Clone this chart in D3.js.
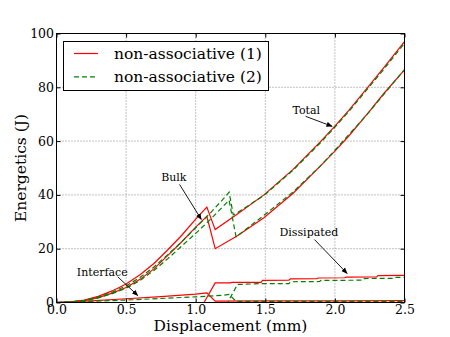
<!DOCTYPE html>
<html>
<head>
<meta charset="utf-8">
<script src="https://cdn.jsdelivr.net/npm/d3@7"></script>
<style>
    body { margin: 0; background: #fff; }
    svg text { font-family: "DejaVu Serif", serif; }
</style>
</head>
<body>
<div id="graph-container"></div>
<script>
// series names for the legend
var seriesNames = ["non-associative (1)", "non-associative (2)"];

// non-associative (1): [displacement mm, energy J]
var totalRed = [[0,0],[0.1,0.2],[0.2,0.9],[0.3,2.3],[0.4,4.3],[0.5,6.9],[0.6,10.3],[0.7,14.5],[0.8,19.6],[0.9,25.0],[1.0,31.0],[1.08,35.5],[1.14,27.1],[1.3,32.9],[1.49,40.0],[1.7,49.5],[1.9,60.0],[2.0,65.6],[2.1,71.4],[2.236,80.0],[2.35,87.2],[2.5,97.0]];
var bulkRed = [[0,0],[0.1,0.15],[0.2,0.7],[0.3,1.8],[0.4,3.5],[0.5,5.6],[0.6,8.6],[0.7,12.5],[0.8,17.5],[0.9,22.6],[1.0,28.0],[1.08,32.0],[1.14,20.0],[1.3,24.8],[1.49,31.5],[1.7,40.6],[1.9,51.0],[2.0,56.3],[2.1,61.9],[2.236,70.3],[2.35,77.6],[2.5,86.5]];
var interfaceRed = [[0,0],[0.25,0.6],[0.5,1.4],[0.75,2.2],[1.0,3.1],[1.08,3.6],[1.14,0.5],[1.5,0.6],[2.0,0.6],[2.5,0.7]];
var dissipatedRed = [[0,0],[1.06,0],[1.14,7.3],[1.25,7.3],[1.26,7.5],[1.47,7.5],[1.48,8.2],[1.67,8.3],[1.68,8.8],[1.87,8.9],[1.88,9.1],[2.07,9.2],[2.08,9.4],[2.30,9.5],[2.31,10.0],[2.5,10.1]];

// non-associative (2)
var totalGreen = [[0,0],[0.1,0.2],[0.2,0.8],[0.3,2.0],[0.4,3.8],[0.5,6.2],[0.6,9.3],[0.7,13.2],[0.8,17.8],[0.9,22.6],[1.0,27.8],[1.1,33.0],[1.2,38.6],[1.24,41.0],[1.27,32.6],[1.3,33.4],[1.49,39.8],[1.7,49.2],[1.9,59.6],[2.0,65.2],[2.1,71.0],[2.236,79.5],[2.35,86.6],[2.5,96.4]];
var bulkGreen = [[0,0],[0.1,0.15],[0.2,0.65],[0.3,1.7],[0.4,3.3],[0.5,5.3],[0.6,8.2],[0.7,11.9],[0.8,16.3],[0.9,21.0],[1.0,25.7],[1.1,30.6],[1.2,35.9],[1.24,38.0],[1.29,24.4],[1.49,32.4],[1.7,41.1],[1.9,51.0],[2.0,56.6],[2.1,62.4],[2.236,70.2],[2.35,77.3],[2.5,86.6]];
var interfaceGreen = [[0,0],[0.5,0.9],[1.0,2.1],[1.2,2.7],[1.24,3.0],[1.29,0.4],[2.5,0.4]];
var dissipatedGreen = [[0,0],[1.23,0],[1.30,6.7],[1.46,7.0],[1.67,7.0],[1.68,7.7],[1.89,7.8],[1.90,8.2],[2.2,8.3],[2.21,8.9],[2.42,9.0],[2.43,9.3],[2.5,9.4]];

// tick values
var xTicks = [0.0, 0.5, 1.0, 1.5, 2.0, 2.5];
var yTicks = [0, 20, 40, 60, 80, 100];

// annotations: label, text position, arrow start, arrow end (data coords)
var annotations = [
    { label: "Total",      text: [1.695, 69.9], from: [1.79, 69.2],  to: [1.98, 65.5] },
    { label: "Bulk",       text: [0.752, 45.0], from: [0.884, 43.9], to: [1.04, 30.9] },
    { label: "Interface",  text: [0.146, 9.8],  from: [0.44, 9.55],  to: [0.584, 2.6] },
    { label: "Dissipated", text: [1.602, 24.6], from: [1.853, 23.4], to: [2.088, 10.8] }
];

var FONT = "DejaVu Serif";

function drawChart() {
    var width = 450;
    var height = 337;
    var margin = { left: 56.5, right: 45.5, top: 33.5, bottom: 34.5 };

    var xScale = d3.scaleLinear()
                   .domain([0, 2.5])
                   .range([margin.left, width - margin.right]);

    var yScale = d3.scaleLinear()
                   .domain([0, 100])
                   .range([height - margin.bottom, margin.top]);

    var svg = d3.select("#graph-container")
                .append("svg")
                .attr("width", width)
                .attr("height", height);

    // arrow head for annotations
    svg.append("defs").append("marker")
       .attr("id", "head")
       .attr("viewBox", "0 0 10 10")
       .attr("refX", 9)
       .attr("refY", 5)
       .attr("markerWidth", 7)
       .attr("markerHeight", 7)
       .attr("orient", "auto")
       .append("path")
       .attr("d", "M0,1 L10,5 L0,9 Z")
       .attr("fill", "#000");

    // grid
    var grid = svg.append("g");
    grid.selectAll(".gx")
        .data(xTicks.slice(1, -1))
        .enter().append("line")
        .attr("x1", d => xScale(d)).attr("x2", d => xScale(d))
        .attr("y1", yScale(0)).attr("y2", yScale(100))
        .attr("stroke", "#555").attr("stroke-width", 0.7)
        .attr("stroke-dasharray", "1,2");
    grid.selectAll(".gy")
        .data(yTicks.slice(1, -1))
        .enter().append("line")
        .attr("y1", d => yScale(d)).attr("y2", d => yScale(d))
        .attr("x1", xScale(0)).attr("x2", xScale(2.5))
        .attr("stroke", "#555").attr("stroke-width", 0.7)
        .attr("stroke-dasharray", "1,2");

    var line = d3.line()
                 .x(d => xScale(d[0]))
                 .y(d => yScale(d[1]));

    var redCurves = [totalRed, bulkRed, interfaceRed, dissipatedRed];
    var greenCurves = [totalGreen, bulkGreen, interfaceGreen, dissipatedGreen];

    redCurves.forEach(c => {
        svg.append("path")
           .datum(c)
           .attr("fill", "none")
           .attr("stroke", "#ff0000")
           .attr("stroke-width", 1.2)
           .attr("d", line);
    });

    greenCurves.forEach(c => {
        svg.append("path")
           .datum(c)
           .attr("fill", "none")
           .attr("stroke", "#008000")
           .attr("stroke-width", 1.2)
           .attr("stroke-dasharray", "5,3")
           .attr("d", line);
    });

    // axes, ticks inward on all four sides
    var xAxis = svg.append("g")
       .attr("transform", `translate(0, ${yScale(0)})`)
       .call(d3.axisBottom(xScale).tickValues(xTicks).tickFormat(d3.format(".1f"))
             .tickSizeInner(-4).tickSizeOuter(0).tickPadding(3));
    xAxis.select(".domain").remove();
    xAxis.attr("font-family", FONT).attr("font-size", 12.5);
    xAxis.selectAll("text").attr("fill", "#000");

    var yAxis = svg.append("g")
       .attr("transform", `translate(${xScale(0)}, 0)`)
       .call(d3.axisLeft(yScale).tickValues(yTicks)
             .tickSizeInner(-4).tickSizeOuter(0).tickPadding(2.5));
    yAxis.select(".domain").remove();
    yAxis.attr("font-family", FONT).attr("font-size", 12.5);
    yAxis.selectAll("text").attr("fill", "#000");

    svg.append("g")
       .attr("transform", `translate(0, ${yScale(100)})`)
       .call(d3.axisTop(xScale).tickValues(xTicks).tickFormat("")
             .tickSizeInner(-4).tickSizeOuter(0))
       .call(g => g.select(".domain").remove());

    svg.append("g")
       .attr("transform", `translate(${xScale(2.5)}, 0)`)
       .call(d3.axisRight(yScale).tickValues(yTicks).tickFormat("")
             .tickSizeInner(-4).tickSizeOuter(0))
       .call(g => g.select(".domain").remove());

    // frame
    svg.append("rect")
       .attr("x", xScale(0)).attr("y", yScale(100))
       .attr("width", xScale(2.5) - xScale(0))
       .attr("height", yScale(0) - yScale(100))
       .attr("fill", "none").attr("stroke", "#000").attr("stroke-width", 1);

    // axis labels
    svg.append("text")
       .attr("x", (xScale(0) + xScale(2.5)) / 2)
       .attr("y", 331)
       .attr("text-anchor", "middle")
       .attr("font-family", FONT)
       .attr("font-size", "15.5px")
       .text("Displacement (mm)");

    svg.append("text")
       .attr("transform", `translate(26, ${(yScale(0) + yScale(100)) / 2}) rotate(-90)`)
       .attr("text-anchor", "middle")
       .attr("font-family", FONT)
       .attr("font-size", "15.5px")
       .text("Energetics (J)");

    // annotations
    annotations.forEach(a => {
        svg.append("text")
           .attr("x", xScale(a.text[0]))
           .attr("y", yScale(a.text[1]))
           .attr("font-family", FONT)
           .attr("font-size", "11px")
           .text(a.label);
        svg.append("line")
           .attr("x1", xScale(a.from[0])).attr("y1", yScale(a.from[1]))
           .attr("x2", xScale(a.to[0])).attr("y2", yScale(a.to[1]))
           .attr("stroke", "#000").attr("stroke-width", 0.9)
           .attr("marker-end", "url(#head)");
    });

    // legend
    var legend = svg.append("g");
    legend.append("rect")
          .attr("x", 63.5).attr("y", 41.5)
          .attr("width", 205).attr("height", 49)
          .attr("fill", "#fff").attr("stroke", "#000").attr("stroke-width", 1);

    var styles = [{ color: "#ff0000", dash: null }, { color: "#008000", dash: "5,3" }];
    seriesNames.forEach((name, i) => {
        var y = 53.5 + i * 23.4;
        legend.append("line")
              .attr("x1", 74).attr("x2", 98)
              .attr("y1", y).attr("y2", y)
              .attr("stroke", styles[i].color).attr("stroke-width", 1.2)
              .attr("stroke-dasharray", styles[i].dash);
        var t = legend.append("text")
              .attr("x", 114).attr("y", y + 5.5)
              .attr("font-family", FONT)
              .attr("font-size", "15px")
              .text(name);
        // keep the label inside the box (about 148px wide)
        var w = t.node().getComputedTextLength();
        if (w > 0) t.attr("font-size", (15 * 148 / w).toFixed(2) + "px");
    });
}

drawChart();
</script>
</body>
</html>
